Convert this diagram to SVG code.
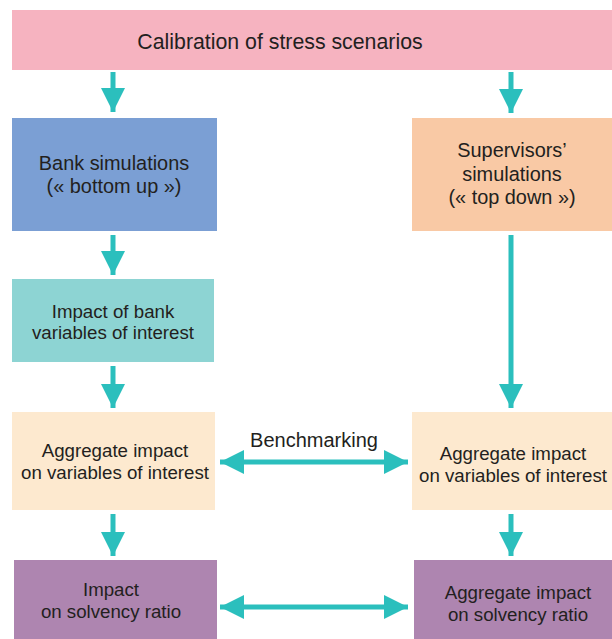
<svg xmlns="http://www.w3.org/2000/svg" width="612" height="639" viewBox="0 0 612 639">
<style>
text{font-family:"Liberation Sans",Arial,sans-serif;fill:#231f20;text-anchor:middle}
.t20{font-size:21.3px}
.t18{font-size:19.9px}
.t17{font-size:20px}
.t16{font-size:18.7px}
.c{stroke:#2bbfbd;stroke-width:5;fill:none}
</style>
<defs>
<marker id="ah" markerUnits="userSpaceOnUse" markerWidth="26" markerHeight="26" viewBox="0 0 26 26" refX="24" refY="13" orient="auto-start-reverse">
<path d="M0,1 L24,13 L0,25 Z" fill="#2bbfbd"/>
</marker>
</defs>
<rect x="0" y="0" width="612" height="639" fill="#fff"/>
<g id="calibration"><rect x="12" y="10" width="600" height="60" fill="#f6b3c0"/><text class="t20" x="280" y="49">Calibration of stress scenarios</text></g>
<g id="bank-sim"><rect x="12" y="118" width="205" height="113" fill="#7b9fd4"/><text class="t18" x="114" y="170">Bank simulations</text><text class="t18" x="114" y="193">(« bottom up »)</text></g>
<g id="sup-sim"><rect x="412" y="118" width="200" height="113" fill="#f9c9a5"/><text class="t18" x="512" y="157">Supervisors’</text><text class="t18" x="512" y="181">simulations</text><text class="t18" x="512" y="204">(« top down »)</text></g>
<g id="impact-bank"><rect x="12" y="279" width="202" height="83" fill="#8dd4d3"/><text class="t16" x="113" y="318">Impact of bank</text><text class="t16" x="113" y="339">variables of interest</text></g>
<g id="agg-left"><rect x="12" y="412" width="203" height="98" fill="#fde9cf"/><text class="t16" x="115" y="457">Aggregate impact</text><text class="t16" x="115" y="479">on variables of interest</text></g>
<g id="agg-right"><rect x="412" y="412" width="200" height="98" fill="#fde9cf"/><text class="t16" x="513" y="460">Aggregate impact</text><text class="t16" x="513" y="482">on variables of interest</text></g>
<g id="solv-left"><rect x="14" y="560" width="203" height="79" fill="#ae85b0"/><text class="t16" x="111" y="596">Impact</text><text class="t16" x="111" y="618">on solvency ratio</text></g>
<g id="solv-right"><rect x="414" y="560" width="198" height="79" fill="#ae85b0"/><text class="t16" x="518" y="599">Aggregate impact</text><text class="t16" x="518" y="621">on solvency ratio</text></g>
<g id="connectors">
<line class="c" x1="113" y1="72" x2="113" y2="112" marker-end="url(#ah)"/>
<line class="c" x1="511" y1="72" x2="511" y2="113" marker-end="url(#ah)"/>
<line class="c" x1="113" y1="235" x2="113" y2="275" marker-end="url(#ah)"/>
<line class="c" x1="113" y1="366" x2="113" y2="408" marker-end="url(#ah)"/>
<line class="c" x1="511" y1="235" x2="511" y2="408" marker-end="url(#ah)"/>
<line class="c" x1="113" y1="514" x2="113" y2="556" marker-end="url(#ah)"/>
<line class="c" x1="511" y1="514" x2="511" y2="556" marker-end="url(#ah)"/>
<line class="c" x1="220" y1="462" x2="408" y2="462" marker-start="url(#ah)" marker-end="url(#ah)"/>
<line class="c" x1="220" y1="607" x2="408" y2="607" marker-start="url(#ah)" marker-end="url(#ah)"/>
<text class="t17" x="314" y="447">Benchmarking</text>
</g>
</svg>
